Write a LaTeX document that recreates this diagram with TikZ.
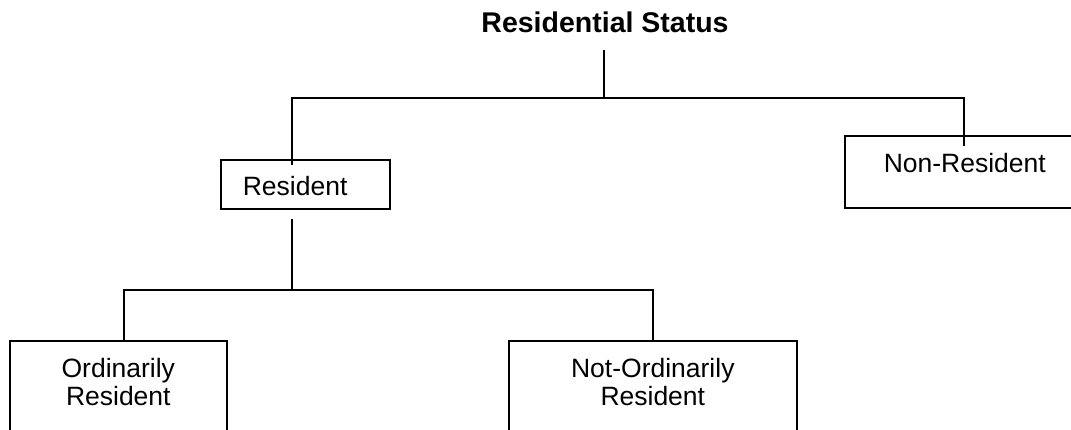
\documentclass[tikz,border=0pt]{standalone}
\usepackage{fontspec}
\setmainfont{Liberation Sans}
\tikzset{
  statbox/.style={draw, line width=1.6pt, inner sep=0pt, anchor=north west, font=\fontsize{26.5}{28}\selectfont},
  link/.style={line width=1.6pt}
}
\begin{document}
\begin{tikzpicture}[x=1pt, y=-1pt]
  \useasboundingbox (0,0) rectangle (1071,430);
  \clip (0,0) rectangle (1071,430);

  \node[inner sep=0pt, anchor=base, font=\fontsize{28.5}{30}\selectfont\bfseries] (status) at (605,33) {Residential Status};
  \node[statbox, minimum width=169pt, minimum height=49pt, text height=23pt, text depth=0pt] (res) at (220,159) {Resident\hspace*{20.4pt}};
  \node[statbox, minimum width=230pt, minimum height=72pt, text height=19.3pt, text depth=17.3pt] (nonres) at (844,135) {\hspace*{10pt}Non-Resident};
  \node[statbox, minimum width=217pt, text height=37pt, text depth=90pt] (ord) at (9,340) {\begin{tabular}[t]{@{}c@{}}Ordinarily\\Resident\end{tabular}};
  \node[statbox, minimum width=288pt, text height=37pt, text depth=90pt] (notord) at (508,340) {\begin{tabular}[t]{@{}c@{}}Not-Ordinarily\\Resident\end{tabular}};

  \coordinate (top) at (604,98);
  \coordinate (topl) at (292,98);
  \coordinate (topr) at (964,98);
  \coordinate (mid) at (292,290);
  \coordinate (midl) at (124,290);
  \coordinate (midr) at (653,290);

  \draw[link, shorten <=17pt] (top |- status.south) -- (top);
  \draw[link] ([yshift=-6pt]topl |- res.north) -- (topl) -- (topr) -- ([yshift=-11pt]topr |- nonres.north);
  \draw[link] ([yshift=-9pt]mid |- res.south) -- (mid);
  \draw[link] (midl |- ord.north) -- (midl) -- (midr) -- (midr |- notord.north);
\end{tikzpicture}
\end{document}
